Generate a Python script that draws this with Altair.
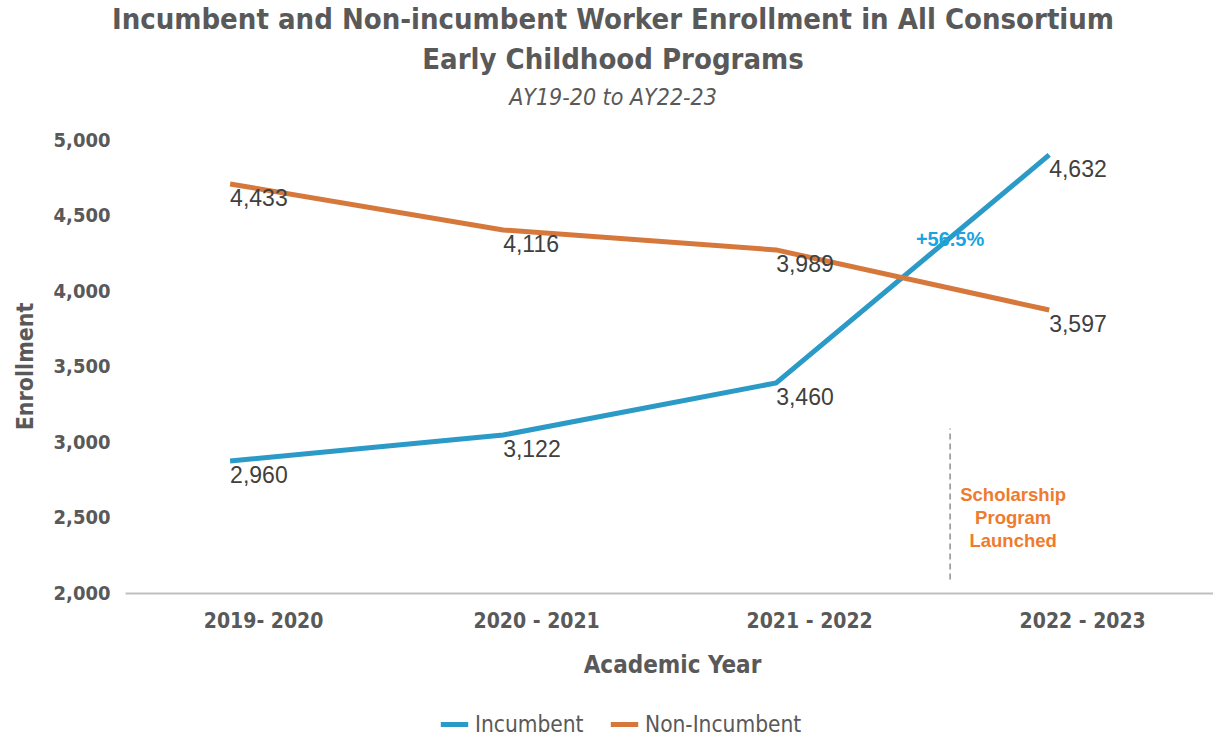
import altair as alt
import pandas as pd

years = ["2019- 2020", "2020 - 2021", "2021 - 2022", "2022 - 2023"]
year_index = [0, 1, 2, 3]
incumbent = [2874, 3046, 3391, 4901]
non_incumbent = [4709, 4404, 4272, 3874]
incumbent_labels = ["2,960", "3,122", "3,460", "4,632"]
non_incumbent_labels = ["4,433", "4,116", "3,989", "3,597"]
series_names = ["Incumbent", "Non-Incumbent"]
series_colors = ["#2b9ac6", "#d6773c"]
y_ticks = [2000, 2500, 3000, 3500, 4000, 4500, 5000]

rows = []
for i, yr in enumerate(years):
    rows.append({"idx": year_index[i], "year": yr, "series": "Incumbent",
                 "value": incumbent[i], "label": incumbent_labels[i]})
    rows.append({"idx": year_index[i], "year": yr, "series": "Non-Incumbent",
                 "value": non_incumbent[i], "label": non_incumbent_labels[i]})
df = pd.DataFrame(rows)

COND = "'Liberation Sans Narrow', 'DejaVu Sans Condensed', 'Roboto Condensed', sans-serif"
ARIAL = "'Liberation Sans', Arial, sans-serif"
GRAY = "#595959"

label_expr = "[" + ",".join(f"'{y}'" for y in years) + "][datum.value]"

x = alt.X("idx:Q",
          scale=alt.Scale(domain=[-0.385, 3.6], nice=False, zero=False),
          axis=alt.Axis(values=year_index, labelExpr=label_expr, title="Academic Year",
                        grid=False, ticks=False, domainColor="#bfbfbf", domainWidth=2,
                        labelOffset=33, labelPadding=17, labelFont=COND, labelFontSize=21,
                        labelFontWeight="bold", labelColor=GRAY, titleFont=COND,
                        titleFontSize=24, titleFontWeight="bold", titleColor=GRAY,
                        titlePadding=22, titleX=547))
y = alt.Y("value:Q",
          scale=alt.Scale(domain=[2000, 5000], nice=False, zero=False),
          axis=alt.Axis(values=y_ticks, format=",.0f", title="Enrollment", grid=False,
                        ticks=False, domain=False, labelPadding=15, labelFont=COND,
                        labelFontSize=20, labelFontWeight="bold", labelColor=GRAY,
                        titleFont=COND, titleFontSize=23, titleFontWeight="bold",
                        titleColor=GRAY, titleX=-100, titleY=226, titleAngle=270,
                        titleAlign="center", titleBaseline="middle"))
color = alt.Color("series:N",
                  scale=alt.Scale(domain=series_names, range=series_colors),
                  legend=alt.Legend(title=None, orient="none", direction="horizontal",
                                    legendX=313, legendY=568, symbolType="stroke",
                                    symbolStrokeWidth=5, symbolSize=750,
                                    labelFont=COND, labelFontSize=22.5, labelColor=GRAY,
                                    columnPadding=16))

lines = alt.Chart(df).mark_line(strokeWidth=5).encode(x=x, y=y, color=color)
labels = alt.Chart(df).mark_text(align="left", baseline="middle", dy=15, font=ARIAL,
                                 fontSize=23, color="#404040").encode(
    x="idx:Q", y="value:Q", text="label:N")

rule_df = pd.DataFrame({"idx": [2.637], "y1": [2090], "y2": [3090]})
rule = alt.Chart(rule_df).mark_rule(strokeDash=[6, 4], color="#7f7f7f", strokeWidth=1.3).encode(
    x="idx:Q", y="y1:Q", y2="y2:Q")

note_df = pd.DataFrame({"idx": [2.868], "value": [2649],
                        "text": ["Scholarship\nProgram\nLaunched"]})
note = alt.Chart(note_df).mark_text(align="center", baseline="middle", lineBreak="\n",
                                    lineHeight=23, font=ARIAL, fontSize=18.5,
                                    fontWeight="bold", color="#f07b2d").encode(
    x="idx:Q", y="value:Q", text="text:N")

pct_df = pd.DataFrame({"idx": [2.637], "value": [4338], "text": ["+56.5%"]})
pct = alt.Chart(pct_df).mark_text(align="center", baseline="middle", font=ARIAL,
                                  fontSize=20, fontWeight="bold", color="#1aa3e0").encode(
    x="idx:Q", y="value:Q", text="text:N")

chart = alt.layer(lines, labels, rule, note, pct).properties(
    width=1088, height=453,
    background="white",
    autosize=alt.AutoSizeParams(type="none"),
    padding={"left": 125, "top": 140, "right": 0, "bottom": 142},
    title=alt.TitleParams(
        text=["Incumbent and Non-incumbent Worker Enrollment  in All Consortium",
              "Early Childhood Programs"],
        subtitle="AY19-20 to AY22-23",
        font=COND, fontSize=29, fontWeight="bold", color=GRAY, lineHeight=40,
        subtitleFont=COND, subtitleFontSize=23, subtitleFontStyle="italic",
        subtitleColor=GRAY, subtitlePadding=12, anchor="middle", dx=-56, offset=20),
).configure_view(stroke=None)

chart.save("out.html", embed_options={"renderer": "svg", "actions": False})
